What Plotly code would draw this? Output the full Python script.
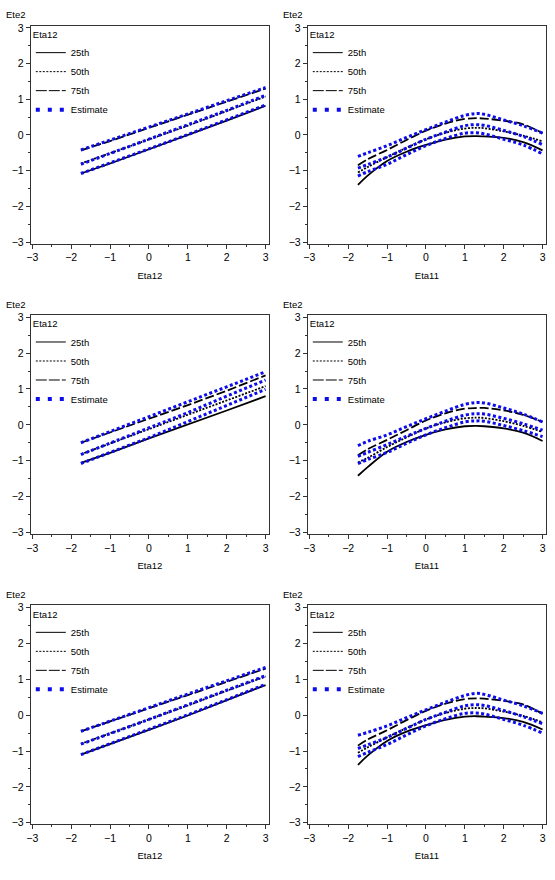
import plotly.graph_objects as go

# ---------------- data ----------------
x_lin = [-1.75, -1, 0, 1, 2, 3]
x_curve = [-1.75, -1.5, -1, -0.5, 0, 0.5, 1, 1.3, 1.5, 2, 2.5, 3]

# Row 1, left (x = Eta12)
r1l_q25 = [-1.08, -0.80, -0.40, -0.01, 0.40, 0.82]
r1l_q50 = [-0.80, -0.51, -0.13, 0.26, 0.67, 1.08]
r1l_q75 = [-0.43, -0.17, 0.20, 0.57, 0.93, 1.30]
r1l_est_lo = [-1.08, -0.79, -0.39, 0.01, 0.42, 0.84]
r1l_est_mid = [-0.82, -0.52, -0.12, 0.28, 0.69, 1.11]
r1l_est_hi = [-0.42, -0.15, 0.22, 0.59, 0.96, 1.33]

# Row 1, right (x = Eta11)
r1r_q25 = [-1.40, -1.14, -0.73, -0.47, -0.28, -0.13, -0.04, -0.03, -0.04, -0.08, -0.20, -0.43]
r1r_q50 = [-1.05, -0.90, -0.62, -0.36, -0.12, 0.06, 0.18, 0.20, 0.19, 0.10, -0.02, -0.18]
r1r_q75 = [-0.85, -0.68, -0.42, -0.14, 0.12, 0.32, 0.45, 0.47, 0.46, 0.40, 0.30, 0.05]
r1r_est_lo = [-1.15, -1.03, -0.82, -0.55, -0.30, -0.10, 0.05, 0.06, 0.03, -0.12, -0.28, -0.53]
r1r_est_mid = [-0.93, -0.83, -0.62, -0.37, -0.12, 0.08, 0.26, 0.29, 0.27, 0.13, -0.04, -0.27]
r1r_est_hi = [-0.60, -0.50, -0.30, -0.07, 0.15, 0.36, 0.55, 0.60, 0.58, 0.42, 0.26, 0.05]

# Row 2, left
r2l_q25 = [-1.06, -0.78, -0.38, 0.00, 0.40, 0.80]
r2l_q50 = [-0.82, -0.52, -0.13, 0.27, 0.67, 1.08]
r2l_q75 = [-0.50, -0.22, 0.17, 0.55, 0.95, 1.38]
r2l_est_lo = [-1.08, -0.78, -0.36, 0.09, 0.53, 0.99]
r2l_est_mid = [-0.83, -0.51, -0.08, 0.34, 0.80, 1.25]
r2l_est_hi = [-0.50, -0.19, 0.22, 0.63, 1.06, 1.48]

# Row 2, right
r2r_q25 = [-1.42, -1.18, -0.75, -0.48, -0.28, -0.13, -0.04, -0.03, -0.04, -0.10, -0.22, -0.45]
r2r_q50 = [-1.05, -0.92, -0.62, -0.35, -0.10, 0.07, 0.18, 0.20, 0.19, 0.10, -0.03, -0.20]
r2r_q75 = [-0.85, -0.68, -0.42, -0.15, 0.12, 0.32, 0.45, 0.47, 0.47, 0.40, 0.28, 0.08]
r2r_est_lo = [-1.08, -0.97, -0.77, -0.52, -0.28, -0.08, 0.08, 0.11, 0.10, -0.02, -0.16, -0.33]
r2r_est_mid = [-0.88, -0.77, -0.55, -0.32, -0.10, 0.10, 0.27, 0.31, 0.30, 0.18, 0.03, -0.15]
r2r_est_hi = [-0.58, -0.46, -0.28, -0.05, 0.17, 0.38, 0.57, 0.62, 0.61, 0.47, 0.30, 0.08]

# Row 3, left
r3l_q25 = [-1.10, -0.81, -0.41, -0.01, 0.41, 0.84]
r3l_q50 = [-0.80, -0.51, -0.13, 0.27, 0.68, 1.08]
r3l_q75 = [-0.45, -0.18, 0.19, 0.56, 0.93, 1.30]
r3l_est_lo = [-1.10, -0.80, -0.40, 0.01, 0.43, 0.86]
r3l_est_mid = [-0.81, -0.52, -0.12, 0.29, 0.70, 1.10]
r3l_est_hi = [-0.45, -0.16, 0.21, 0.59, 0.96, 1.33]

# Row 3, right
r3r_q25 = [-1.39, -1.13, -0.72, -0.46, -0.28, -0.13, -0.04, -0.03, -0.04, -0.08, -0.19, -0.40]
r3r_q50 = [-1.05, -0.90, -0.62, -0.36, -0.12, 0.06, 0.18, 0.20, 0.19, 0.10, -0.02, -0.20]
r3r_q75 = [-0.85, -0.68, -0.42, -0.14, 0.12, 0.32, 0.45, 0.47, 0.46, 0.40, 0.30, 0.04]
r3r_est_lo = [-1.16, -1.04, -0.82, -0.55, -0.30, -0.10, 0.05, 0.06, 0.03, -0.12, -0.28, -0.50]
r3r_est_mid = [-0.93, -0.83, -0.62, -0.37, -0.12, 0.08, 0.26, 0.29, 0.27, 0.13, -0.04, -0.24]
r3r_est_hi = [-0.56, -0.48, -0.30, -0.07, 0.15, 0.36, 0.55, 0.61, 0.58, 0.42, 0.26, 0.05]

x_titles = ["Eta12", "Eta11"]
y_title = "Ete2"
legend_title = "Eta12"
legend_labels = ["25th", "50th", "75th", "Estimate"]
tick_vals = [-3, -2, -1, 0, 1, 2, 3]

panels = [
    (x_lin, r1l_q25, r1l_q50, r1l_q75, r1l_est_lo, r1l_est_mid, r1l_est_hi, "linear"),
    (x_curve, r1r_q25, r1r_q50, r1r_q75, r1r_est_lo, r1r_est_mid, r1r_est_hi, "spline"),
    (x_lin, r2l_q25, r2l_q50, r2l_q75, r2l_est_lo, r2l_est_mid, r2l_est_hi, "linear"),
    (x_curve, r2r_q25, r2r_q50, r2r_q75, r2r_est_lo, r2r_est_mid, r2r_est_hi, "spline"),
    (x_lin, r3l_q25, r3l_q50, r3l_q75, r3l_est_lo, r3l_est_mid, r3l_est_hi, "linear"),
    (x_curve, r3r_q25, r3r_q50, r3r_q75, r3r_est_lo, r3r_est_mid, r3r_est_hi, "spline"),
]

# ---------------- style ----------------
W, H = 555, 880
FONT = "Liberation Sans, Arial, sans-serif"
BLUE = "#0c0cec"
col_px = [(27, 267), (306, 546)]
row_px = [(22, 242), (314, 535), (607, 828)]

black_styles = [
    dict(dash="solid", width=1.8),
    dict(dash="2px,1.5px", width=1.8),
    dict(dash="9px,3px", width=1.8),
]
legend_styles = [
    dict(color="black", dash="solid", width=1),
    dict(color="black", dash="2px,1.5px", width=1),
    dict(color="black", dash="11px,2px", width=1),
    dict(color=BLUE, dash="4px,8px", width=4),
]

fig = go.Figure()
layout = dict(
    width=W, height=H, margin=dict(l=0, r=0, t=0, b=0),
    paper_bgcolor="white", plot_bgcolor="white",
    font=dict(family=FONT, size=10, color="black"),
    annotations=[],
)

for i, (xs, q25, q50, q75, elo, emid, ehi, shape) in enumerate(panels):
    n = i + 1
    r, c = divmod(i, 2)
    xa = "x" if n == 1 else f"x{n}"
    ya = "y" if n == 1 else f"y{n}"
    lg = "legend" if n == 1 else f"legend{n}"
    for ys, st in zip([q25, q50, q75], black_styles):
        fig.add_trace(go.Scatter(x=xs, y=ys, mode="lines", xaxis=xa, yaxis=ya,
                                 line=dict(color="black", shape=shape, **st),
                                 showlegend=False, hoverinfo="skip"))
    for ys in [elo, emid, ehi]:
        fig.add_trace(go.Scatter(x=xs, y=ys, mode="lines", xaxis=xa, yaxis=ya,
                                 line=dict(color=BLUE, shape=shape, dash="3px,2.5px", width=3),
                                 showlegend=False, hoverinfo="skip"))
    for lab, st in zip(legend_labels, legend_styles):
        fig.add_trace(go.Scatter(x=[None], y=[None], mode="lines", xaxis=xa, yaxis=ya,
                                 name=lab, line=st, legend=lg, showlegend=True))

    x0, x1 = col_px[c]
    t, b = row_px[r]
    xd = [x0 / W, x1 / W]
    yd = [1 - b / H, 1 - t / H]
    axis_common = dict(
        showgrid=False, zeroline=False, showline=True, mirror=True,
        linecolor="#333", linewidth=1, ticks="outside", ticklen=4,
        tickcolor="#333", tickvals=tick_vals, tickfont=dict(size=10.5),
        minor=dict(ticks="outside", ticklen=2, dtick=0.5, tick0=0.5, tickcolor="#333"),
        fixedrange=True,
    )
    layout["xaxis" if n == 1 else f"xaxis{n}"] = dict(
        domain=xd, anchor=ya, range=[-3.04, 3.09],
        title=dict(text=x_titles[c], font=dict(size=9.5), standoff=9),
        **axis_common)
    layout["yaxis" if n == 1 else f"yaxis{n}"] = dict(
        domain=yd, anchor=xa, range=[-3.05, 3.06], **axis_common)
    layout[lg] = dict(
        x=xd[0] + 0 / W, y=yd[1] - 0 / H, xanchor="left", yanchor="top",
        bgcolor="rgba(0,0,0,0)", borderwidth=0,
        title=dict(text=legend_title, font=dict(size=9.5)),
        font=dict(size=9.5), itemwidth=30, tracegroupgap=0,
    )
    layout["annotations"].append(dict(
        text=y_title, xref=f"{xa} domain", yref=f"{ya} domain",
        x=0, y=1, xshift=-27, yshift=11, xanchor="left", yanchor="middle",
        showarrow=False, font=dict(size=9.5)))

fig.update_layout(**layout)
fig.write_html("out.html")
